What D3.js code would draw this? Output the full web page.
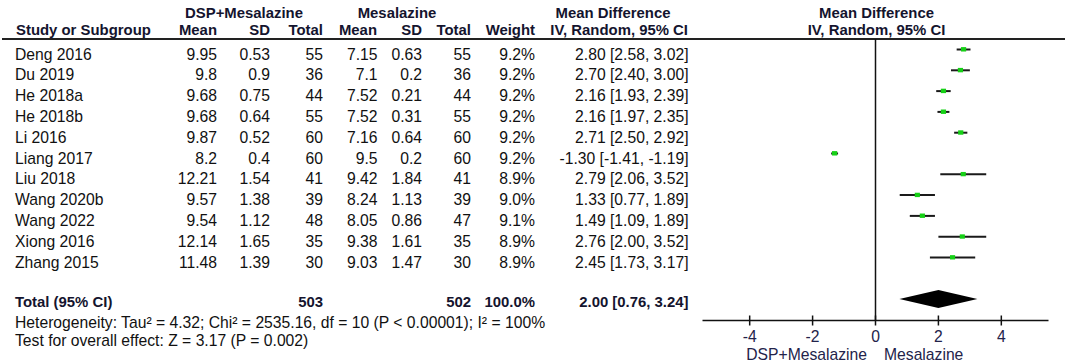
<!DOCTYPE html>
<html>
<head>
<meta charset="utf-8">
<script src="https://cdn.jsdelivr.net/npm/d3@7"></script>
<style>
  html, body { margin: 0; padding: 0; background: #fff; }
  svg { display: block; }
  text { font-family: Arial, "Liberation Sans", sans-serif; }
</style>
</head>
<body>
<svg id="chart" width="1065" height="364"></svg>
<script>
// ---------- DATA ----------
const studies = ["Deng 2016","Du 2019","He 2018a","He 2018b","Li 2016","Liang 2017","Liu 2018","Wang 2020b","Wang 2022","Xiong 2016","Zhang 2015"];
const expMean  = ["9.95","9.8","9.68","9.68","9.87","8.2","12.21","9.57","9.54","12.14","11.48"];
const expSD    = ["0.53","0.9","0.75","0.64","0.52","0.4","1.54","1.38","1.12","1.65","1.39"];
const expTotal = [55,36,44,55,60,60,41,39,48,35,30];
const ctlMean  = ["7.15","7.1","7.52","7.52","7.16","9.5","9.42","8.24","8.05","9.38","9.03"];
const ctlSD    = ["0.63","0.2","0.21","0.31","0.64","0.2","1.84","1.13","0.86","1.61","1.47"];
const ctlTotal = [55,36,44,55,60,60,41,39,47,35,30];
const weights  = [9.2,9.2,9.2,9.2,9.2,9.2,8.9,9.0,9.1,8.9,8.9];
const md       = [2.80,2.70,2.16,2.16,2.71,-1.30,2.79,1.33,1.49,2.76,2.45];
const ciLow    = [2.58,2.40,1.93,1.97,2.50,-1.41,2.06,0.77,1.09,2.00,1.73];
const ciHigh   = [3.02,3.00,2.39,2.35,2.92,-1.19,3.52,1.89,1.89,3.52,3.17];
const totalExp = 503, totalCtl = 502, totalWeight = "100.0%";
const pooled = [2.00, 0.76, 3.24]; // estimate, low, high
const axisTicks = [-4,-2,0,2,4];
const heterogeneityText = "Heterogeneity: Tau² = 4.32; Chi² = 2535.16, df = 10 (P < 0.00001); I² = 100%";
const overallText = "Test for overall effect: Z = 3.17 (P = 0.002)";
const favoursLeft = "DSP+Mesalazine", favoursRight = "Mesalazine";

// ---------- LAYOUT ----------
const svg = d3.select("#chart");
const FS = 15.7, FSB = 14.9;
const txtColor = "#111";
const hdrColor = "#14142e";
const rowStep = 20.8;
const firstBase = 59.5, firstMark = 49.5;

const x = d3.scaleLinear().domain([-5.5, 5.5]).range([702.5, 1048.5]);
const yBase = i => firstBase + i * rowStep;
const yMark = i => firstMark + i * rowStep;

function txt(s, xx, yy, anchor, bold, color, size) {
  svg.append("text").attr("x", xx).attr("y", yy)
    .attr("text-anchor", anchor || "start")
    .attr("font-size", size || (bold ? FSB : FS))
    .attr("font-weight", bold ? "bold" : "normal")
    .attr("fill", color || txtColor)
    .text(s);
}

// headers
txt("DSP+Mesalazine", 244, 17.5, "middle", true, hdrColor);
txt("Mesalazine", 397, 17.5, "middle", true, hdrColor);
txt("Mean Difference", 613, 17.5, "middle", true, hdrColor);
txt("Mean Difference", 876.5, 17.5, "middle", true, hdrColor);

const hdr2 = [["Study or Subgroup",16,"start"],["Mean",217,"end"],["SD",270,"end"],["Total",323,"end"],
              ["Mean",377,"end"],["SD",422,"end"],["Total",471,"end"],["Weight",535,"end"],
              ["IV, Random, 95% CI",688,"end"],["IV, Random, 95% CI",876.5,"middle"]];
hdr2.forEach(h => txt(h[0], h[1], 35, h[2], true, hdrColor));

svg.append("line").attr("x1", 2).attr("x2", 1065).attr("y1", 39).attr("y2", 39)
  .attr("stroke", "#222").attr("stroke-width", 1.8);

// rows
const cols = [
  [expMean, 217], [expSD, 270], [expTotal, 323],
  [ctlMean, 377.5], [ctlSD, 422], [ctlTotal, 471]
];
studies.forEach((s, i) => {
  txt(s, 15, yBase(i), "start");
  cols.forEach(c => txt(c[0][i], c[1], yBase(i), "end"));
  txt(weights[i].toFixed(1) + "%", 535, yBase(i), "end");
  txt(md[i].toFixed(2) + " [" + ciLow[i].toFixed(2) + ", " + ciHigh[i].toFixed(2) + "]", 688.5, yBase(i), "end");
});

// total row
const totBase = 307;
txt("Total (95% CI)", 15, totBase, "start", true, hdrColor);
txt(totalExp, 323, totBase, "end", true, hdrColor);
txt(totalCtl, 471, totBase, "end", true, hdrColor);
txt(totalWeight, 535, totBase, "end", true, hdrColor);
txt(pooled[0].toFixed(2) + " [" + pooled[1].toFixed(2) + ", " + pooled[2].toFixed(2) + "]", 688.5, totBase, "end", true, hdrColor);
txt(heterogeneityText, 15, 328, "start");
txt(overallText, 15, 345.5, "start");

// zero line
svg.append("line").attr("x1", x(0)).attr("x2", x(0)).attr("y1", 39).attr("y2", 320.5)
  .attr("stroke", "#111").attr("stroke-width", 1.5);

// CI lines + markers
const g = svg.append("g");
g.selectAll("line.ci").data(md).join("line").attr("class", "ci")
  .attr("x1", (d, i) => x(ciLow[i])).attr("x2", (d, i) => x(ciHigh[i]))
  .attr("y1", (d, i) => yMark(i)).attr("y2", (d, i) => yMark(i))
  .attr("stroke", "#1a1a1a").attr("stroke-width", 2);
g.selectAll("rect.pt").data(md).join("rect").attr("class", "pt")
  .each(function(d, i) {
    const s = 5.2 * Math.sqrt(weights[i] / 9.2);
    d3.select(this).attr("x", x(d) - s / 2).attr("y", yMark(i) - s / 2 + 0.2)
      .attr("width", s).attr("height", s * 0.85);
  })
  .attr("fill", "#16d016");

// diamond
const dy = 299, dh = 9;
svg.append("path")
  .attr("d", `M${x(pooled[1])},${dy} L${x(pooled[0])},${dy - dh} L${x(pooled[2])},${dy} L${x(pooled[0])},${dy + dh} Z`)
  .attr("fill", "#000");

// axis
const axisY = 320.5;
svg.append("line").attr("x1", x.range()[0]).attr("x2", x.range()[1]).attr("y1", axisY).attr("y2", axisY)
  .attr("stroke", "#111").attr("stroke-width", 1.5);
svg.selectAll("line.tk").data(axisTicks).join("line").attr("class", "tk")
  .attr("x1", d => x(d)).attr("x2", d => x(d)).attr("y1", axisY - 5).attr("y2", axisY + 5)
  .attr("stroke", "#111").attr("stroke-width", 1.5);
svg.selectAll("text.tl").data(axisTicks).join("text").attr("class", "tl")
  .attr("x", d => x(d)).attr("y", 341.5).attr("text-anchor", "middle")
  .attr("font-size", FS).attr("fill", "#23234a").text(d => d);

txt(favoursLeft, x(0) - 8.5, 360, "end", false, "#23234a");
txt(favoursRight, x(0) + 8.5, 360, "start", false, "#23234a");
</script>
</body>
</html>
